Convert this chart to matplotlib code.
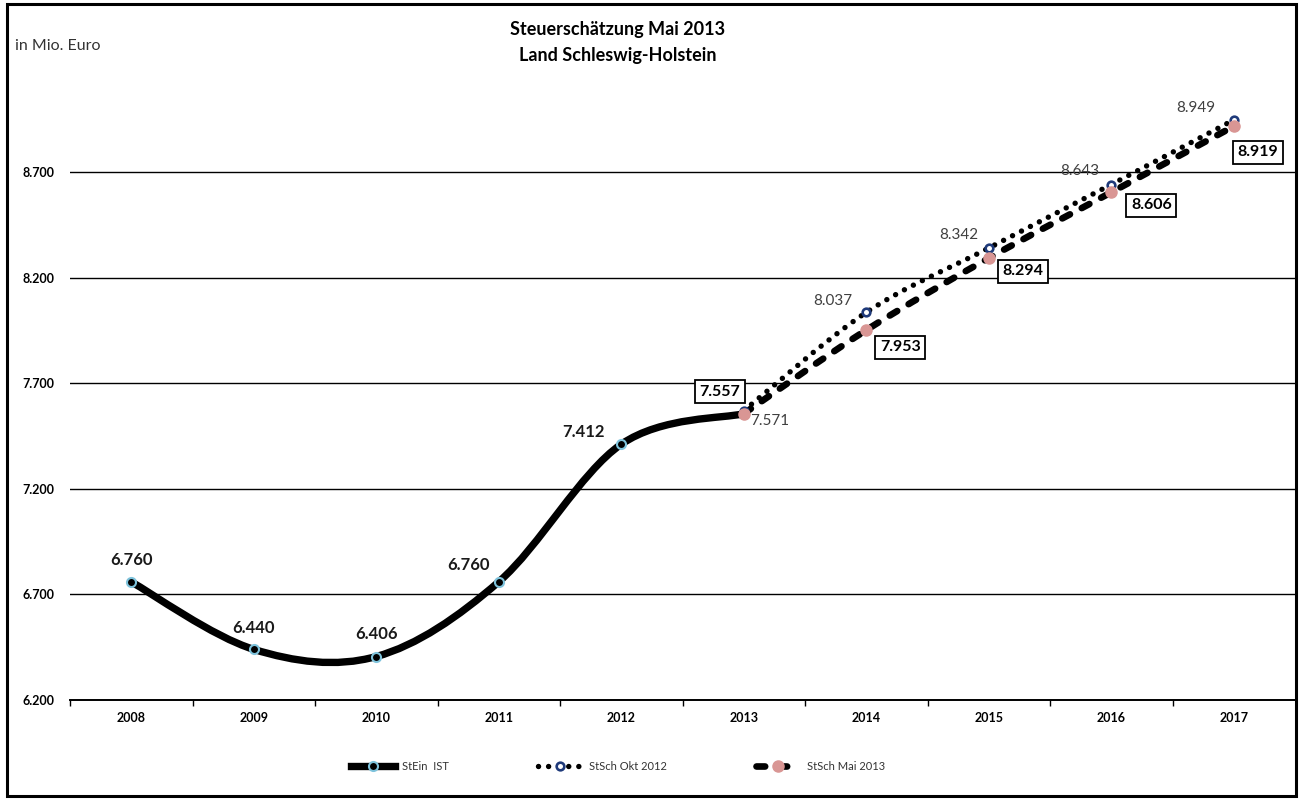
import numpy as np
import matplotlib
matplotlib.use('Agg')
import matplotlib.pyplot as plt
from matplotlib.path import Path
from matplotlib.patches import PathPatch, Rectangle
from matplotlib.lines import Line2D

plt.rcParams['font.family'] = ['Lato', 'DejaVu Sans']

# Daten (Mio. Euro)
years = ['2008', '2009', '2010', '2011', '2012', '2013', '2014', '2015', '2016', '2017']
ist_values = [6760, 6440, 6406, 6760, 7412, 7557]          # 2008-2013
okt_values = [7571, 8037, 8342, 8643, 8949]                # 2013-2017
mai_values = [7557, 7953, 8294, 8606, 8919]                # 2013-2017
legend_labels = ['StEin  IST', 'StSch Okt 2012', 'StSch Mai 2013']

W, H = 1302, 799


def fmt(v):
    return f'{v:,.0f}'.replace(',', '.')


def smooth_path(xs, ys):
    # Excel-artige Glättung (Catmull-Rom als Bezier)
    pts = np.column_stack([xs, ys]).astype(float)
    verts = [pts[0]]
    codes = [Path.MOVETO]
    n = len(pts)
    for i in range(n - 1):
        p0 = pts[i - 1] if i > 0 else pts[i]
        p1 = pts[i]
        p2 = pts[i + 1]
        p3 = pts[i + 2] if i + 2 < n else pts[i + 1]
        verts += [p1 + (p2 - p0) / 6, p2 - (p3 - p1) / 6, p2]
        codes += [Path.CURVE4] * 3
    return Path(verts, codes)


fig = plt.figure(figsize=(W / 100, H / 100), dpi=100)
ax = fig.add_axes([70 / W, 99 / H, 1225 / W, 633 / H])

x_ist = np.arange(len(ist_values))
x_prog = np.arange(len(ist_values) - 1, len(ist_values) - 1 + len(okt_values))

ist_style = dict(color='black', lw=5.3, linestyle='-')
okt_style = dict(color='black', lw=3.9, linestyle=(0, (0.01, 1.85)))
mai_style = dict(color='black', lw=4.8, linestyle=(0, (1.3, 2.0)))

ax.add_patch(PathPatch(smooth_path(x_ist, ist_values), fill=False, capstyle='round',
                       joinstyle='round', zorder=3, **ist_style))
ax.add_patch(PathPatch(smooth_path(x_prog, mai_values), fill=False, capstyle='round',
                       joinstyle='round', zorder=3, **mai_style))
ax.add_patch(PathPatch(smooth_path(x_prog, okt_values), fill=False, capstyle='round',
                       joinstyle='round', zorder=3, **okt_style))

ist_marker = dict(marker='o', ms=6.5, mfc='black', mec='#7ec3dc', mew=1.5)
okt_marker = dict(marker='o', ms=5.5, mfc='white', mec='#1f3a7a', mew=1.9)
mai_marker = dict(marker='o', ms=8, mfc='#d99694', mec='#d99694', mew=1)

ax.plot(x_ist[:-1], ist_values[:-1], linestyle='none', zorder=4, **ist_marker)
ax.plot(x_prog, okt_values, linestyle='none', zorder=4, **okt_marker)
ax.plot(x_prog, mai_values, linestyle='none', zorder=5, **mai_marker)

# Datenbeschriftungen
ist_offsets = [(0, 22), (0, 21), (0, 23), (-30, 17), (-38, 12)]
for x, v, off in zip(x_ist[:-1], ist_values[:-1], ist_offsets):
    ax.annotate(fmt(v), (x, v), xytext=off, textcoords='offset pixels', ha='center', va='center',
                fontsize=12, fontweight='bold', color='#1a1a1a', zorder=6)

okt_offsets = [(26, -10), (-33, 11), (-30, 13), (-31, 14), (-38, 12)]
for x, v, off in zip(x_prog, okt_values, okt_offsets):
    ax.annotate(fmt(v), (x, v), xytext=off, textcoords='offset pixels', ha='center', va='center',
                fontsize=11, color='#404040', zorder=6)

mai_offsets = [(-24, 22), (34, -17), (34, -13), (40, -13), (24, -26)]
for x, v, off in zip(x_prog, mai_values, mai_offsets):
    ax.annotate(fmt(v), (x, v), xytext=off, textcoords='offset pixels', ha='center', va='center',
                fontsize=11.5, fontweight='bold', color='black', zorder=6,
                bbox=dict(boxstyle='square,pad=0.28', fc='white', ec='black', lw=1.3))

# Achsen
ax.set_xlim(-0.5, len(years) - 0.5)
ax.set_ylim(6200, 9200)
ax.set_xticks(range(len(years)))
ax.set_xticklabels(years, fontsize=9, fontweight='bold')
ax.set_xticks(np.arange(-0.5, len(years) - 0.5, 1), minor=True)
ax.tick_params(axis='x', which='major', length=0, pad=9)
ax.tick_params(axis='x', which='minor', length=4, width=1, direction='out')
yt = np.arange(6200, 8701, 500)
ax.set_yticks(yt)
ax.set_yticklabels([fmt(v) for v in yt], fontsize=9, fontweight='bold')
ax.tick_params(axis='y', length=0, pad=11)
ax.grid(axis='y', color='black', lw=1.0)
ax.set_axisbelow(True)
for s in ['left', 'top', 'right']:
    ax.spines[s].set_visible(False)
ax.spines['bottom'].set_linewidth(1.4)

fig.text(618 / W, 1 - 30 / H, 'Steuerschätzung Mai 2013', ha='center', va='center',
         fontsize=13, fontweight='bold')
fig.text(618 / W, 1 - 56 / H, 'Land Schleswig-Holstein', ha='center', va='center',
         fontsize=13, fontweight='bold')
fig.text(15 / W, 1 - 46 / H, 'in Mio. Euro', ha='left', va='center', fontsize=11.5, color='#333333')

handles = [
    Line2D([], [], **ist_style, **ist_marker),
    Line2D([], [], dash_capstyle='round', **okt_style, **okt_marker),
    Line2D([], [], dash_capstyle='round', **mai_style, **mai_marker),
]
fig.legend(handles, legend_labels, loc='center', bbox_to_anchor=(618 / W, 1 - 766 / H), ncol=3,
           frameon=False, fontsize=8, handlelength=4.0, handletextpad=0.6, columnspacing=8.0,
           numpoints=1, labelcolor='#333333')

fig.patches.append(Rectangle((6.5 / W, 3 / H), 1289.5 / W, 792 / H, transform=fig.transFigure,
                             fill=False, lw=2.2, ec='black'))

fig.savefig('out.png', dpi=100)
